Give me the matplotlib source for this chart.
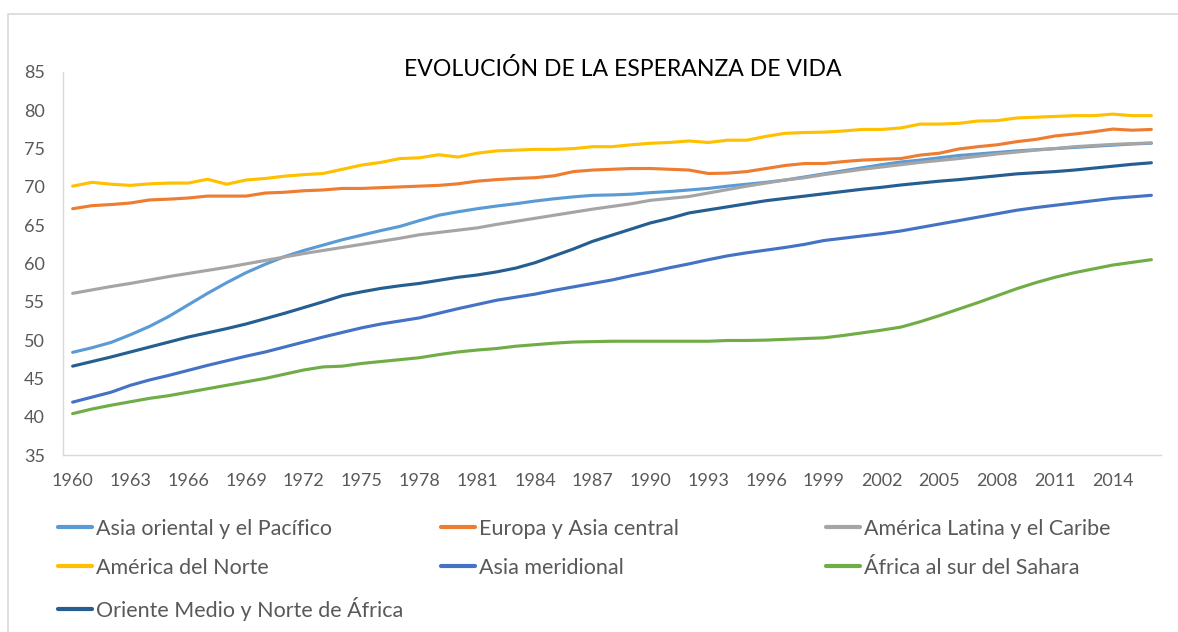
"""
Evolucion de la esperanza de vida por region (1960-2016), estilo Excel
"""

import numpy as np
import matplotlib
from matplotlib import pyplot as plt
from matplotlib.patches import Rectangle

matplotlib.rcParams['font.family'] = ['Lato', 'DejaVu Sans']

years = list(range(1960, 2017))

asiaOriental = [48.4, 49.0, 49.7, 50.7, 51.8, 53.1, 54.6, 56.1, 57.5, 58.8,
                59.9, 60.9, 61.7, 62.4, 63.1, 63.7, 64.3, 64.85, 65.6, 66.3,
                66.75, 67.15, 67.5, 67.8, 68.15, 68.45, 68.7, 68.9, 68.95, 69.05,
                69.25, 69.4, 69.6, 69.8, 70.1, 70.35, 70.6, 70.9, 71.3, 71.7,
                72.1, 72.5, 72.9, 73.25, 73.5, 73.8, 74.1, 74.3, 74.5, 74.7,
                74.85, 75.0, 75.15, 75.3, 75.45, 75.6, 75.7]
europaAsiaCentral = [67.15, 67.55, 67.7, 67.9, 68.3, 68.4, 68.55, 68.8, 68.8, 68.8,
                     69.2, 69.3, 69.5, 69.6, 69.8, 69.8, 69.9, 70.0, 70.1, 70.2,
                     70.4, 70.75, 70.95, 71.1, 71.2, 71.45, 72.0, 72.2, 72.3, 72.4,
                     72.4, 72.3, 72.2, 71.75, 71.8, 72.0, 72.4, 72.8, 73.05, 73.05,
                     73.3, 73.5, 73.6, 73.7, 74.15, 74.4, 74.95, 75.25, 75.5, 75.9,
                     76.2, 76.65, 76.9, 77.2, 77.55, 77.4, 77.5]
americaLatina = [56.1, 56.55, 57.0, 57.4, 57.85, 58.3, 58.7, 59.1, 59.5, 59.95,
                 60.4, 60.85, 61.3, 61.7, 62.1, 62.5, 62.9, 63.3, 63.75, 64.05,
                 64.35, 64.65, 65.1, 65.5, 65.9, 66.3, 66.7, 67.1, 67.45, 67.8,
                 68.25, 68.5, 68.75, 69.2, 69.65, 70.1, 70.5, 70.9, 71.2, 71.6,
                 71.95, 72.3, 72.6, 72.9, 73.2, 73.45, 73.7, 74.0, 74.3, 74.55,
                 74.8, 75.0, 75.25, 75.4, 75.55, 75.65, 75.75]
americaNorte = [70.1, 70.6, 70.35, 70.2, 70.4, 70.5, 70.5, 71.0, 70.35, 70.9,
                71.1, 71.4, 71.6, 71.75, 72.3, 72.85, 73.2, 73.7, 73.8, 74.2,
                73.9, 74.4, 74.7, 74.8, 74.9, 74.9, 75.0, 75.25, 75.25, 75.5,
                75.7, 75.8, 76.0, 75.8, 76.1, 76.1, 76.6, 77.0, 77.1, 77.15,
                77.3, 77.5, 77.5, 77.7, 78.2, 78.2, 78.3, 78.6, 78.65, 79.0,
                79.1, 79.2, 79.3, 79.3, 79.5, 79.3, 79.3]
asiaMeridional = [41.9, 42.55, 43.2, 44.1, 44.8, 45.4, 46.05, 46.7, 47.3, 47.9,
                  48.45, 49.1, 49.75, 50.4, 51.0, 51.6, 52.1, 52.5, 52.9, 53.5,
                  54.1, 54.65, 55.2, 55.6, 56.0, 56.5, 56.95, 57.4, 57.85, 58.4,
                  58.9, 59.45, 59.95, 60.5, 61.0, 61.4, 61.75, 62.1, 62.5, 63.0,
                  63.3, 63.6, 63.9, 64.25, 64.7, 65.15, 65.6, 66.05, 66.5, 66.95,
                  67.3, 67.6, 67.9, 68.2, 68.5, 68.7, 68.9]
africaSubsahariana = [40.4, 41.0, 41.5, 41.95, 42.4, 42.75, 43.2, 43.65, 44.1, 44.55,
                      45.0, 45.55, 46.1, 46.5, 46.6, 46.95, 47.2, 47.45, 47.7, 48.1,
                      48.45, 48.7, 48.9, 49.2, 49.4, 49.6, 49.75, 49.8, 49.85, 49.85,
                      49.85, 49.85, 49.85, 49.85, 49.95, 49.95, 50.0, 50.1, 50.2, 50.3,
                      50.6, 50.95, 51.3, 51.7, 52.4, 53.2, 54.05, 54.9, 55.8, 56.7,
                      57.5, 58.2, 58.8, 59.3, 59.8, 60.15, 60.5]
orienteMedio = [46.6, 47.2, 47.8, 48.45, 49.1, 49.75, 50.4, 50.95, 51.5, 52.1,
                52.8, 53.5, 54.25, 55.0, 55.8, 56.3, 56.75, 57.1, 57.4, 57.8,
                58.2, 58.5, 58.9, 59.4, 60.1, 61.0, 61.9, 62.9, 63.7, 64.5,
                65.3, 65.9, 66.6, 67.0, 67.4, 67.8, 68.2, 68.5, 68.8, 69.1,
                69.4, 69.7, 69.95, 70.25, 70.5, 70.75, 70.95, 71.2, 71.45, 71.7,
                71.85, 72.0, 72.2, 72.45, 72.7, 72.95, 73.15]

seriesNames = ['Asia oriental y el Pacífico', 'Europa y Asia central',
               'América Latina y el Caribe', 'América del Norte',
               'Asia meridional', 'África al sur del Sahara',
               'Oriente Medio y Norte de África']
seriesData = [asiaOriental, europaAsiaCentral, americaLatina, americaNorte,
              asiaMeridional, africaSubsahariana, orienteMedio]
seriesColors = ['#5B9BD5', '#ED7D31', '#A5A5A5', '#FFC000',
                '#4472C4', '#70AD47', '#255E91']

textColor = '#595959'
axisColor = '#D9D9D9'

fig = plt.figure(figsize=(11.78, 6.32), dpi=100)
ax = fig.add_axes([63/1178, 1-455/632, (1161-63)/1178, (455-72)/632])

xpos = np.arange(len(years))
lines = []
for name, vals, col in zip(seriesNames, seriesData, seriesColors):
    ln, = ax.plot(xpos, vals, color=col, lw=2.25, label=name,
                  solid_capstyle='round', solid_joinstyle='round')
    lines.append(ln)

ax.set_xlim(-0.5, len(years) - 0.5)
ax.set_ylim(35, 85)
ax.set_yticks(np.arange(35, 86, 5))
ax.set_xticks(xpos[::3])
ax.set_xticklabels([str(y) for y in years[::3]])
ax.tick_params(length=0, labelsize=13, labelcolor=textColor)
ax.tick_params(axis='x', pad=13)
ax.tick_params(axis='y', pad=13)
for side in ['top', 'right']:
    ax.spines[side].set_visible(False)
for side in ['left', 'bottom']:
    ax.spines[side].set_color(axisColor)
    ax.spines[side].set_linewidth(1)

fig.text(623/1178, 1-69/632, 'EVOLUCIÓN DE LA ESPERANZA DE VIDA',
         ha='center', va='center', fontsize=16.6, color='black')

# legend in three columns, filled row by row like Excel
colX = [58, 441, 826]
for c in range(3):
    idx = list(range(c, len(lines), 3))
    leg = fig.legend([lines[i] for i in idx], [seriesNames[i] for i in idx],
                     loc='upper left', bbox_to_anchor=(colX[c]/1178, 1-519/632),
                     frameon=False, fontsize=15.5, labelcolor=textColor,
                     handlelength=1.58, handletextpad=0.2, labelspacing=0.88,
                     borderpad=0, borderaxespad=0)
    for h in leg.get_lines():
        h.set_linewidth(3)

# light frame of the chart area
fig.add_artist(Rectangle((8/1178, -0.5), 2, 0.5 + 1 - 14/632, transform=fig.transFigure,
                         fill=False, ec=axisColor, lw=1.2))

plt.savefig('out.png', dpi=100, facecolor='w')
